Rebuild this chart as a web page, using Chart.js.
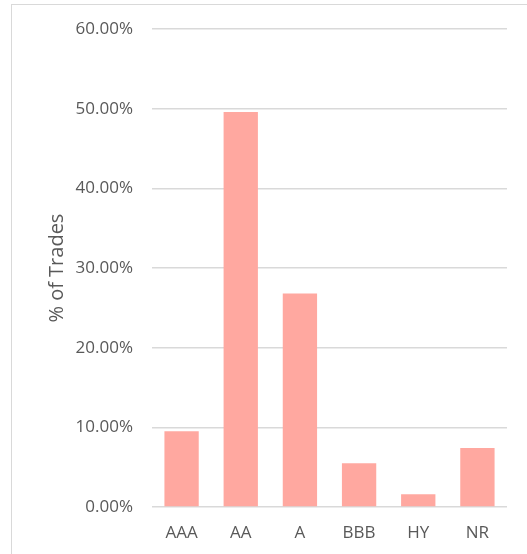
<!DOCTYPE html>
<html>
<head>
<meta charset="utf-8">
<script src="https://cdn.jsdelivr.net/npm/chart.js@4.4.0/dist/chart.umd.min.js"></script>
<style>
  html, body { margin: 0; padding: 0; background: #fff; overflow: hidden; }
  #wrap { position: relative; width: 527px; height: 554px; }
  #frame { position: absolute; left: 11px; top: 4px; width: 600px; height: 600px; border: 1px solid #d9d9d9; }
  canvas { position: absolute; left: 0; top: 0; }
</style>
</head>
<body>
<div id="wrap">
  <div id="frame"></div>
  <canvas id="ratingChart" width="527" height="554"></canvas>
</div>
<script>
// DATA
const ratings = ["AAA", "AA", "A", "BBB", "HY", "NR"];
const tradePct = [9.5, 49.6, 26.8, 5.5, 1.6, 7.4];
const yTicks = [0, 10, 20, 30, 40, 50, 60];

const fontFamily = "'Open Sans', 'Noto Sans', sans-serif";
const textColor = "#595959";

new Chart(document.getElementById("ratingChart"), {
  type: "bar",
  data: {
    labels: ratings,
    datasets: [{
      data: tradePct,
      backgroundColor: "#ffa8a0",
      borderWidth: 0,
      barPercentage: 0.58,
      categoryPercentage: 1
    }]
  },
  options: {
    responsive: false,
    animation: false,
    layout: { padding: { left: 0, right: 20, top: 28, bottom: 0 } },
    plugins: { legend: { display: false }, tooltip: { enabled: false } },
    scales: {
      x: {
        grid: { display: false },
        border: { display: false },
        ticks: {
          color: textColor,
          font: { family: fontFamily, size: 17 },
          padding: 8,
          maxRotation: 0
        },
        afterFit: s => { s.height = 47; }
      },
      y: {
        min: 0,
        max: 60,
        afterBuildTicks: s => { s.ticks = yTicks.map(v => ({ value: v })); },
        grid: { color: "#d9d9d9", lineWidth: 1.6, drawTicks: false },
        border: { display: false },
        ticks: {
          color: textColor,
          font: { family: fontFamily, size: 17 },
          padding: 19,
          callback: v => v.toFixed(2) + "%"
        },
        title: {
          display: true,
          text: "% of Trades",
          color: textColor,
          font: { family: fontFamily, size: 20 },
          padding: { top: 45, bottom: 0 }
        },
        afterFit: s => { s.width = 152; }
      }
    }
  }
});
</script>
</body>
</html>
